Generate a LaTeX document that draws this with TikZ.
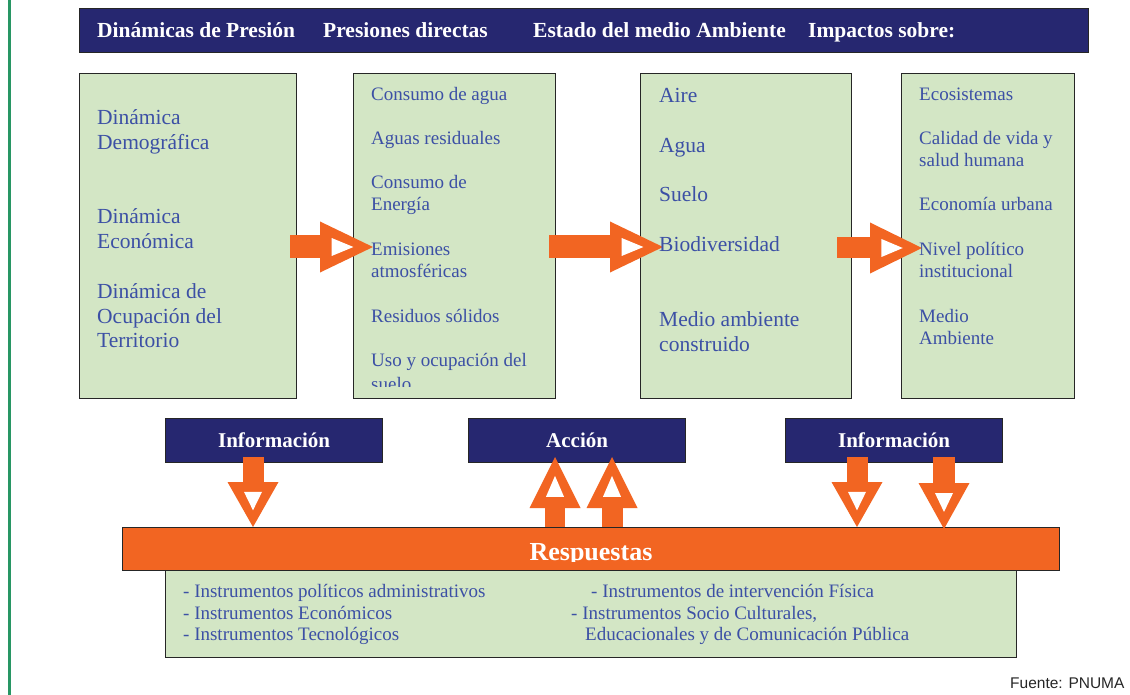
\documentclass[tikz,border=0pt]{standalone}
\usepackage{fontspec}
\setmainfont{Liberation Serif}
\newfontfamily\sansf{Liberation Sans}
\definecolor{navy}{RGB}{38,39,112}
\definecolor{lgreen}{RGB}{211,230,197}
\definecolor{orng}{RGB}{242,101,34}
\definecolor{tblue}{RGB}{60,80,165}
\definecolor{lline}{RGB}{40,150,100}
\begin{document}
\begin{tikzpicture}[x=1pt,y=-1pt,
  gbox/.style={draw=black!85,line width=1.4pt,fill=lgreen,anchor=north west,inner sep=0pt},
  nbox/.style={draw=black!85,line width=1.2pt,fill=navy,anchor=north west,inner sep=0pt,text=white,font=\fontsize{21}{24}\selectfont\bfseries},
  obar/.style={draw=black!85,line width=1.2pt,fill=orng,anchor=north west,inner sep=0pt},
  hd/.style={anchor=base west,inner sep=0pt,text=white,font=\fontsize{21.5}{24}\selectfont\bfseries},
  tl/.style={anchor=base west,inner sep=0pt,text=tblue,font=\fontsize{21.5}{25}\selectfont},
  ts/.style={anchor=base west,inner sep=0pt,text=tblue,font=\fontsize{19}{22}\selectfont},
  pics/blockarrow/.style n args={3}{code={
    \fill[orng] (-#1,-#3) -- (-#2+1,-#3) -- (-#2+1,#3) -- (-#1,#3) -- cycle;
    \fill[orng] (-#2,-25.5) -- (0,0) -- (-#2,25.5) -- cycle;
    \fill[white] ({-0.78*#2},-9) -- ({-0.37*#2},0) -- ({-0.78*#2},9) -- cycle;
  }}]
\useasboundingbox[fill=white] (0,0) rectangle (1130,695);
\draw[lline,line width=2.2pt] (9.5,0) -- (9.5,695);
% header
\node[nbox,minimum width=1009pt,minimum height=44pt] (hdr) at (79,8) {};
\node[hd] (h1) at (97,38) {Dinámicas de Presión};
\node[hd] (h2) at (323,38) {Presiones directas};
\node[hd] (h3) at (533,38) {Estado del medio Ambiente};
\node[hd] (h4) at (808,38) {Impactos sobre:};
% green boxes
\node[gbox,minimum width=217pt,minimum height=325pt] (b1) at (79,73) {};
\node[gbox,minimum width=202pt,minimum height=325pt] (b2) at (353,73) {};
\node[gbox,minimum width=211pt,minimum height=325pt] (b3) at (640,73) {};
\node[gbox,minimum width=173pt,minimum height=325pt] (b4) at (901,73) {};
% horizontal arrows
\pic at (373,247) {blockarrow={83}{53}{11.5}};
\pic at (663,247) {blockarrow={114}{53}{11.5}};
\pic at (922,248) {blockarrow={85}{52}{10.5}};
% box 1 text
\node[tl] (t11) at (97,124.5) {Dinámica};
\node[tl] (t12) at (97,149.5) {Demográfica};
\node[tl] (t13) at (97,223.5) {Dinámica};
\node[tl] (t14) at (97,248.5) {Económica};
\node[tl] (t15) at (97,298.5) {Dinámica de};
\node[tl] (t16) at (97,323.5) {Ocupación del};
\node[tl] (t17) at (97,347.5) {Territorio};
% box 2 text
\begin{scope}
\clip (353,73) rectangle (555,386.5);
\node[ts] (t21) at (371,101) {Consumo de agua};
\node[ts] (t22) at (371,145) {Aguas residuales};
\node[ts] (t23) at (371,189) {Consumo de};
\node[ts] (t24) at (371,211) {Energía};
\node[ts] (t25) at (371,255) {Emisiones};
\node[ts] (t26) at (371,277) {atmosféricas};
\node[ts] (t27) at (371,322) {Residuos sólidos};
\node[ts] (t28) at (371,366) {Uso y ocupación del};
\node[ts] (t29) at (371,390) {suelo};
\end{scope}
% box 3 text
\node[tl] (t31) at (659,102.5) {Aire};
\node[tl] (t32) at (659,152.5) {Agua};
\node[tl] (t33) at (659,201.5) {Suelo};
\node[tl] (t34) at (659,251.5) {Biodiversidad};
\node[tl] (t35) at (659,326.5) {Medio ambiente};
\node[tl] (t36) at (659,351.5) {construido};
% box 4 text
\node[ts] (t41) at (919,101) {Ecosistemas};
\node[ts] (t42) at (919,145) {Calidad de vida y};
\node[ts] (t43) at (919,167) {salud humana};
\node[ts] (t44) at (919,211) {Economía urbana};
\node[ts] (t45) at (919,255) {Nivel político};
\node[ts] (t46) at (919,277) {institucional};
\node[ts] (t47) at (919,322) {Medio};
\node[ts] (t48) at (919,344) {Ambiente};
% info / action boxes
\node[nbox,minimum width=217pt,minimum height=44pt] (inf1) at (165,418) {Información};
\node[nbox,minimum width=217pt,minimum height=44pt] (acc) at (468,418) {Acción};
\node[nbox,minimum width=217pt,minimum height=44pt] (inf2) at (785,418) {Información};
% respuestas bar
\node[obar,minimum width=937pt,minimum height=43pt] (resp) at (122,527) {};
\begin{scope}
\clip (122,527) rectangle (1059,561);
\node[anchor=base,inner sep=0pt,text=white,font=\fontsize{26}{30}\selectfont\bfseries] (respt) at (591,560) {Respuestas};
\end{scope}
% bottom green box
\node[gbox,minimum width=851pt,minimum height=87pt] (inst) at (165,570) {};
% vertical arrows
\pic[rotate=-90] at (253,527) {blockarrow={70}{45}{10.5}};
\pic[rotate=-90] at (857,527) {blockarrow={70}{45}{10.5}};
\pic[rotate=-90] at (944,529) {blockarrow={72}{46}{11}};
\pic[rotate=90] at (555,457) {blockarrow={70}{51}{10}};
\pic[rotate=90] at (612,457) {blockarrow={70}{51}{10.5}};
% instruments text
\node[ts] (i1) at (183,597) {- Instrumentos políticos administrativos};
\node[ts] (i2) at (183,619) {- Instrumentos Económicos};
\node[ts] (i3) at (183,640) {- Instrumentos Tecnológicos};
\node[ts] (i4) at (591,597) {- Instrumentos de intervención Física};
\node[ts] (i5) at (571,619) {- Instrumentos Socio Culturales,};
\node[ts] (i6) at (585,640) {Educacionales y de Comunicación Pública};
% source
\node[anchor=base west,inner sep=0pt,text=black!85,font=\sansf\fontsize{15.5}{18}\selectfont] (src) at (1010,688) {Fuente: PNUMA};
\end{tikzpicture}
\end{document}
